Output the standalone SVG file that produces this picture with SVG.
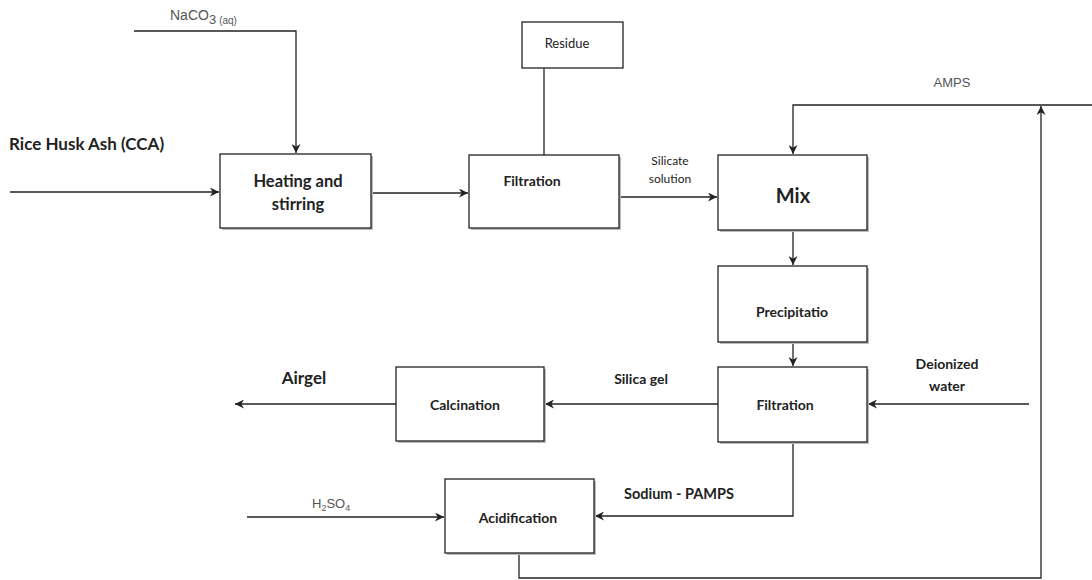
<svg xmlns="http://www.w3.org/2000/svg" width="1092" height="580" viewBox="0 0 1092 580">
<style>
.box{fill:#fff;stroke:#222;stroke-width:1.3}
.sh{fill:#bbb}
.ln{fill:none;stroke:#222;stroke-width:1.3}
.b{font-family:Lato,"Liberation Sans",sans-serif;font-weight:bold;fill:#222}
.r{font-family:Lato,"Liberation Sans",sans-serif;fill:#222}
.g{font-family:"Liberation Sans",Arial,sans-serif;fill:#555}
</style>
<defs>
<marker id="ah" viewBox="0 0 10 10" refX="10" refY="5" markerWidth="9" markerHeight="9" markerUnits="userSpaceOnUse" orient="auto">
<path d="M0,0 L10,5 L0,10 L3,5 Z" fill="#222"/>
</marker>
</defs>
<rect width="1092" height="580" fill="#fff"/>
<g id="connectors">
<path class="ln" d="M134,31 H296 V153" marker-end="url(#ah)"/>
<path class="ln" d="M10,192 H219" marker-end="url(#ah)"/>
<path class="ln" d="M371,193 H468" marker-end="url(#ah)"/>
<path class="ln" d="M544,68 V155"/>
<path class="ln" d="M619,197 H717" marker-end="url(#ah)"/>
<path class="ln" d="M1092,105 H793 V154" marker-end="url(#ah)"/>
<path class="ln" d="M793,230 V265" marker-end="url(#ah)"/>
<path class="ln" d="M793,342 V366" marker-end="url(#ah)"/>
<path class="ln" d="M1029,404 H868" marker-end="url(#ah)"/>
<path class="ln" d="M718,404 H545" marker-end="url(#ah)"/>
<path class="ln" d="M396,404 H235" marker-end="url(#ah)"/>
<path class="ln" d="M793,442 V516 H595" marker-end="url(#ah)"/>
<path class="ln" d="M247,517 H444" marker-end="url(#ah)"/>
<path class="ln" d="M519,553 V578 H1041 V106" marker-end="url(#ah)"/>
</g>
<g id="labels">
<text class="b" x="9" y="150" font-size="17">Rice Husk Ash (CCA)</text>
<text class="g" x="170" y="20" font-size="14">NaCO<tspan font-size="13" dy="4">3</tspan><tspan font-size="10" dx="3">(aq)</tspan></text>
<text class="g" x="952" y="87" font-size="13" text-anchor="middle">AMPS</text>
<text class="r" x="670" y="165" font-size="12" text-anchor="middle">Silicate</text>
<text class="r" x="670" y="183" font-size="12" text-anchor="middle">solution</text>
<text class="b" x="947" y="369" font-size="14" text-anchor="middle">Deionized</text>
<text class="b" x="947" y="391" font-size="14" text-anchor="middle">water</text>
<text class="b" x="641" y="384" font-size="14" text-anchor="middle">Silica gel</text>
<text class="b" x="304" y="384" font-size="17" text-anchor="middle">Airgel</text>
<text class="b" x="624" y="499" font-size="14.5">Sodium - PAMPS</text>
<text class="g" x="312" y="508" font-size="13">H<tspan font-size="9" dy="3">2</tspan><tspan dy="-3">SO</tspan><tspan font-size="9" dy="3">4</tspan></text>
</g>
<g id="heating">
<rect class="sh" x="222" y="156" width="151" height="74"/>
<rect class="box" x="220" y="154" width="151" height="74"/>
<text class="b" x="298" y="187" font-size="16.5" text-anchor="middle">Heating and</text>
<text class="b" x="298" y="210" font-size="16.5" text-anchor="middle">stirring</text>
</g>
<g id="residue">
<rect class="box" x="522" y="22" width="101" height="46"/>
<text class="r" x="567" y="48" font-size="13" text-anchor="middle">Residue</text>
</g>
<g id="filtration1">
<rect class="sh" x="471" y="157" width="150" height="73"/>
<rect class="box" x="469" y="155" width="150" height="73"/>
<text class="b" x="532" y="186" font-size="14" text-anchor="middle">Filtration</text>
</g>
<g id="mix">
<rect class="sh" x="720" y="157" width="149" height="75"/>
<rect class="box" x="718" y="155" width="149" height="75"/>
<text class="b" x="793" y="203" font-size="20" text-anchor="middle">Mix</text>
</g>
<g id="precipitation">
<rect class="sh" x="720" y="268" width="149" height="76"/>
<rect class="box" x="718" y="266" width="149" height="76"/>
<text class="b" x="792" y="317" font-size="14" text-anchor="middle">Precipitatio</text>
</g>
<g id="filtration2">
<rect class="sh" x="720" y="369" width="149" height="75"/>
<rect class="box" x="718" y="367" width="149" height="75"/>
<text class="b" x="785" y="410" font-size="14" text-anchor="middle">Filtration</text>
</g>
<g id="calcination">
<rect class="sh" x="398" y="369" width="148" height="74"/>
<rect class="box" x="396" y="367" width="148" height="74"/>
<text class="b" x="465" y="410" font-size="14" text-anchor="middle">Calcination</text>
</g>
<g id="acidification">
<rect class="sh" x="447" y="481" width="149" height="74"/>
<rect class="box" x="445" y="479" width="149" height="74"/>
<text class="b" x="518" y="523" font-size="14" text-anchor="middle">Acidification</text>
</g>
</svg>
